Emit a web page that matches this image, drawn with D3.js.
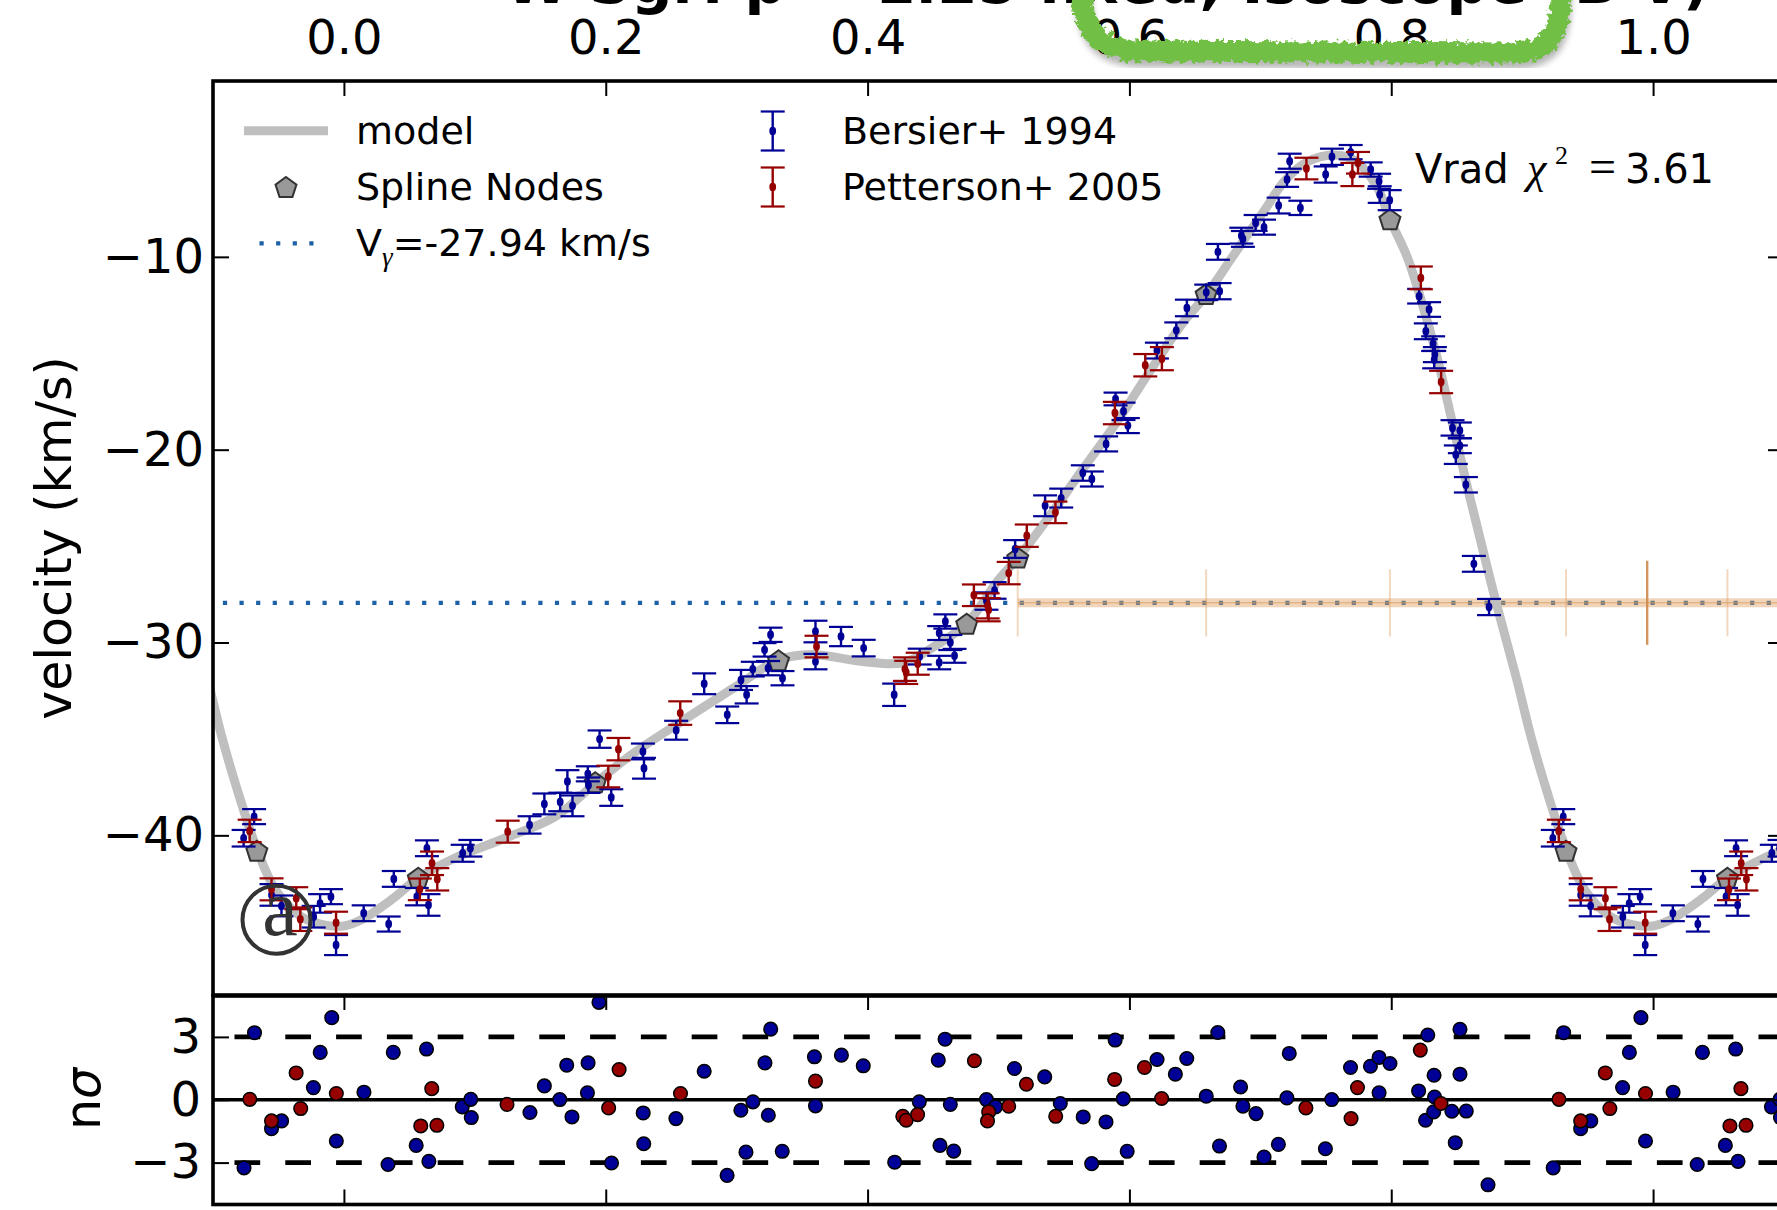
<!DOCTYPE html>
<html>
<head>
<meta charset="utf-8">
<script src="https://cdn.jsdelivr.net/npm/d3@7"></script>
<style>
  html, body { margin: 0; padding: 0; background: #fff; overflow: hidden; }
  svg { display: block; }
</style>
</head>
<body>
<svg id="fig" width="1777" height="1210" font-family="DejaVu Sans"></svg>
<script>
// ---------------- data ----------------
const phaseTicks = [0.0, 0.2, 0.4, 0.6, 0.8, 1.0];
const velTicks = [-40, -30, -20, -10];
const sigmaTicks = [-3, 0, 3];
const titleText = "W Sgr: p = 1.25 fixed, Isoscope (B-V)";

// Bersier+ 1994 radial velocities (phase, km/s, 1-sigma error)
const bersierPhase = [0.0151,0.0342,0.0381,0.0557,0.0634,0.0646,0.0907,0.0966,0.1418,0.1531,0.1652,0.1707,0.1746,0.1863,0.1868,0.1953,0.2042,0.2284,0.2292,0.2538,0.2752,0.2928,0.3033,0.3076,0.3123,0.3213,0.3240,0.3259,0.3350,0.3602,0.3602,0.3797,0.3970,0.4203,0.4398,0.4547,0.4547,0.4594,0.4632,0.4664,0.4908,0.4970,0.5127,0.5356,0.5479,0.5644,0.5713,0.5822,0.5894,0.5955,0.5988,0.6210,0.6358,0.6439,0.6587,0.6676,0.6689,0.6855,0.6867,0.6964,0.7028,0.7140,0.7204,0.7224,0.7306,0.7499,0.7547,0.7690,0.7843,0.7907,0.7912,0.7988,0.8213,0.8264,0.8289,0.8320,0.8328,0.8333,0.8468,0.8493,0.8524,0.8524,0.8570,0.8631,0.8747,0.9234,0.9314,0.9447,0.9523,0.9769,0.9818,0.9901,0.9940];
const bersierVel = [-44.04,-44.60,-42.26,-43.18,-40.67,-43.61,-40.93,-40.67,-39.46,-38.37,-38.27,-37.21,-38.47,-36.81,-37.40,-35.01,-38.04,-35.65,-36.52,-34.55,-32.14,-33.75,-31.94,-32.71,-31.38,-30.38,-31.33,-29.60,-31.85,-29.43,-30.99,-29.69,-30.29,-32.71,-30.73,-29.51,-31.04,-28.91,-30.00,-30.69,-27.85,-27.30,-25.15,-22.91,-22.51,-21.21,-21.52,-19.70,-17.37,-18.01,-18.75,-14.86,-13.81,-12.65,-11.84,-9.74,-11.78,-8.90,-9.07,-8.24,-8.46,-7.34,-5.99,-5.04,-7.46,-5.73,-4.81,-4.57,-5.47,-6.08,-6.77,-7.06,-12.04,-13.86,-12.73,-14.50,-15.33,-15.07,-18.87,-20.26,-19.00,-19.79,-21.82,-25.92,-28.16,-40.15,-39.03,-43.09,-43.66,-44.22,-43.53,-43.18,-45.69];
const bersierErr = [0.41,0.39,0.41,0.45,0.41,0.56,0.44,0.43,0.45,0.54,0.48,0.59,0.54,0.39,0.40,0.45,0.43,0.41,0.54,0.49,0.54,0.43,0.52,0.45,0.38,0.35,0.37,0.37,0.37,0.56,0.40,0.50,0.43,0.58,0.41,0.36,0.35,0.37,0.39,0.36,0.45,0.43,0.46,0.54,0.49,0.40,0.39,0.39,0.33,0.45,0.39,0.41,0.41,0.43,0.40,0.41,0.42,0.41,0.41,0.41,0.39,0.41,0.38,0.39,0.37,0.42,0.42,0.37,0.37,0.39,0.43,0.52,0.38,0.41,0.38,0.38,0.45,0.39,0.40,0.48,0.41,0.39,0.40,0.41,0.42,0.43,0.39,0.56,0.54,0.56,0.48,0.39,0.52];

// Petterson+ 2005 radial velocities
const pettersonPhase = [0.0580,0.0673,0.0713,0.1251,0.2019,0.2097,0.2569,0.3610,0.4285,0.4295,0.4383,0.4812,0.4917,0.4925,0.5078,0.5216,0.5435,0.5889,0.6121,0.6248,0.7352,0.7703,0.7746,0.8226,0.8381,0.9280,0.9447,0.9636,0.9667,0.9940];
const pettersonVel = [-42.80,-41.45,-42.28,-39.81,-36.95,-35.53,-33.66,-30.21,-31.38,-31.55,-31.10,-27.55,-28.10,-28.30,-26.40,-24.46,-23.25,-18.10,-15.62,-15.28,-5.42,-5.73,-5.12,-11.09,-16.49,-39.77,-42.80,-43.26,-44.35,-44.53];
const pettersonErr = [0.56,0.61,0.58,0.57,0.56,0.58,0.61,0.56,0.61,0.60,0.57,0.56,0.65,0.60,0.58,0.58,0.56,0.58,0.58,0.60,0.56,0.60,0.56,0.59,0.58,0.58,0.57,0.57,0.61,0.57];

// spline model of the velocity curve
const modelPhase = [0.000,0.014,0.037,0.057,0.084,0.123,0.162,0.192,0.221,0.260,0.299,0.332,0.357,0.396,0.427,0.451,0.476,0.500,0.515,0.539,0.564,0.590,0.615,0.641,0.659,0.679,0.705,0.718,0.735,0.757,0.773,0.789,0.799,0.812,0.822,0.835,0.845,0.8575,0.870,0.880,0.896,0.906,0.917,0.934,0.948,0.967,0.982];
const modelVel = [-44.70,-44.35,-43.30,-42.20,-41.20,-40.15,-39.00,-37.30,-35.75,-34.00,-32.30,-30.90,-30.62,-30.98,-31.05,-30.20,-29.00,-26.75,-25.60,-23.45,-21.05,-18.60,-16.00,-13.40,-11.95,-9.97,-7.40,-6.10,-5.10,-4.72,-5.05,-6.35,-8.05,-9.97,-12.05,-15.20,-18.10,-21.75,-25.20,-27.90,-31.95,-34.70,-37.30,-40.80,-42.85,-44.20,-44.60];

// spline nodes
const nodePhase = [0.0568,0.1920,0.3320,0.4757,0.5147,0.6586,0.7990,0.9335];
const nodeVel = [-42.20,-37.25,-30.92,-29.03,-25.60,-11.93,-8.05,-40.80];

// systemic velocity and its uncertainty band
const gammaVel = -27.94;
const gammaBandStart = 0.5147;
const gammaMarkPhase = [0.5147,0.6586,0.7990,0.9335,1.0568];
const gammaMarkHalf = 1.74;
const gammaMainPhase = 0.9955;
const gammaMainHalf = 2.18;
const chi2 = 3.61;

// residuals in units of sigma
const bersierResPhase = [0.0153,0.0337,0.0377,0.0552,0.0631,0.0649,0.0904,0.0969,0.0973,0.1421,0.1531,0.1649,0.1702,0.1742,0.1860,0.1865,0.1948,0.2044,0.2286,0.2290,0.2536,0.2752,0.2927,0.3032,0.3071,0.3124,0.3216,0.3260,0.3242,0.3348,0.3594,0.3602,0.3800,0.3967,0.4207,0.4395,0.4540,0.4553,0.4592,0.4632,0.4658,0.4908,0.4977,0.5122,0.5353,0.5472,0.5647,0.5712,0.5821,0.5891,0.5953,0.5983,0.6211,0.6351,0.6438,0.6587,0.6675,0.6688,0.6849,0.6867,0.6967,0.7028,0.7138,0.7203,0.7221,0.7497,0.7545,0.7689,0.7841,0.7907,0.7990,0.7907,0.8209,0.8279,0.8262,0.8327,0.8331,0.8324,0.8463,0.8573,0.8525,0.8525,0.8489,0.8739,0.9237,0.9317,0.9447,0.9524,0.9767,0.9819,0.9907,0.9942];
const bersierResSigma = [0.36,-3.09,2.26,-2.18,2.42,-2.94,-0.34,0.02,-0.85,-0.61,0.66,0.01,1.65,-0.82,0.33,1.76,4.65,-3.02,-0.63,-2.10,-0.90,1.36,-3.61,-0.50,-2.50,-0.10,1.76,3.37,-0.74,-2.46,2.05,-0.29,2.13,1.62,-2.98,-0.10,1.89,-2.18,2.89,-0.22,-2.45,0.01,-0.34,1.49,1.09,-0.18,-0.82,-3.05,-1.06,2.85,0.04,-2.46,1.92,1.22,1.97,0.17,3.21,-2.21,0.61,-0.31,-0.66,-2.74,-2.13,0.09,2.21,-2.34,0.01,1.54,1.60,2.02,1.73,0.33,0.42,3.09,-0.98,1.17,0.13,-0.58,-0.55,-0.54,3.36,1.22,-2.05,-4.06,-3.25,3.20,-1.38,-1.01,0.58,2.26,3.92,-1.97];
const pettersonResPhase = [0.0587,0.0671,0.0710,0.1246,0.2022,0.2102,0.2571,0.3602,0.4269,0.4295,0.4382,0.4816,0.4925,0.4916,0.5078,0.5213,0.5437,0.5887,0.6115,0.6246,0.7348,0.7742,0.7693,0.8222,0.8380,0.9281,0.9447,0.9635,0.9670,0.9942];
const pettersonResSigma = [-1.25,0.53,-1.22,-0.22,-0.39,1.44,0.30,0.89,-0.79,-0.98,-0.71,1.86,-0.58,-1.01,-0.31,0.74,-0.79,0.97,1.54,0.06,-0.39,0.58,-0.90,2.37,-0.18,0.02,-1.01,1.28,-0.42,0.30];

// ---------------- layout ----------------
const svg = d3.select("#fig");
const xLeft = 213, xRight = 1784;
const mainTop = 81, mainBottom = 995, resTop = 995, resBottom = 1204.5;

const x = d3.scaleLinear().domain([-0.1, 1.1]).range([xLeft, xRight]);
const yV = d3.scaleLinear().domain([-48.28, -0.88]).range([mainBottom, mainTop]);
const yR = d3.scaleLinear().domain([-5, 5]).range([resBottom, resTop]);

const BLUE = "#000096", RED = "#960000", GAMMA = "#1d62a8", MODEL = "#bfbfbf", BAND = "#dd9a5a";
const FONT = "DejaVu Sans";
const SERIF = "'Liberation Serif', 'DejaVu Serif', serif";

const defs = svg.append("defs");
defs.append("clipPath").attr("id", "clipMain").append("rect")
  .attr("x", xLeft).attr("y", mainTop).attr("width", xRight - xLeft).attr("height", mainBottom - mainTop);
defs.append("clipPath").attr("id", "clipRes").append("rect")
  .attr("x", xLeft).attr("y", resTop).attr("width", xRight - xLeft).attr("height", resBottom - resTop);

const rough = defs.append("filter").attr("id", "rough")
  .attr("x", "-5%").attr("y", "-60%").attr("width", "110%").attr("height", "220%");
rough.append("feTurbulence").attr("type", "fractalNoise").attr("baseFrequency", "0.2")
  .attr("numOctaves", 3).attr("seed", 7).attr("result", "noise");
rough.append("feDisplacementMap").attr("in", "SourceGraphic").attr("in2", "noise")
  .attr("scale", 11).attr("xChannelSelector", "R").attr("yChannelSelector", "G");
defs.append("filter").attr("id", "soft").append("feGaussianBlur").attr("stdDeviation", 3);

// repeat phased points one cycle to each side
function wrap(ph, ...cols) {
  const out = [];
  for (const s of [-1, 0, 1]) {
    ph.forEach((p, i) => {
      const q = p + s;
      if (q > -0.16 && q < 1.16) out.push([q, ...cols.map(c => c[i])]);
    });
  }
  return out;
}

// ---------------- title (runs off the top edge) ----------------
svg.append("text").attr("x", 505).attr("y", 3)
  .attr("font-family", FONT).attr("font-weight", "bold").attr("font-size", 58)
  .text(titleText);

// ---------------- main panel ----------------
const main = svg.append("g").attr("clip-path", "url(#clipMain)");

// systemic velocity line
main.append("line")
  .attr("x1", 222.9 - 16.6 * 9).attr("x2", xRight)
  .attr("y1", yV(gammaVel)).attr("y2", yV(gammaVel))
  .attr("stroke", GAMMA).attr("stroke-width", 4.3).attr("stroke-dasharray", "4.2,12.4");

// uncertainty band on the systemic velocity
main.append("rect")
  .attr("x", x(gammaBandStart)).attr("width", xRight - x(gammaBandStart))
  .attr("y", yV(gammaVel) - 4.5).attr("height", 9)
  .attr("fill", BAND).attr("opacity", 0.42);
main.append("line")
  .attr("x1", x(gammaBandStart)).attr("x2", xRight)
  .attr("y1", yV(gammaVel)).attr("y2", yV(gammaVel))
  .attr("stroke", BAND).attr("stroke-width", 1.6).attr("opacity", 0.55);
main.selectAll("line.gmark").data(gammaMarkPhase).join("line").attr("class", "gmark")
  .attr("x1", d => x(d)).attr("x2", d => x(d))
  .attr("y1", yV(gammaVel + gammaMarkHalf)).attr("y2", yV(gammaVel - gammaMarkHalf))
  .attr("stroke", BAND).attr("stroke-width", 2).attr("opacity", 0.38);
main.append("line")
  .attr("x1", x(gammaMainPhase)).attr("x2", x(gammaMainPhase))
  .attr("y1", yV(gammaVel + gammaMainHalf)).attr("y2", yV(gammaVel - gammaMainHalf))
  .attr("stroke", "#cf8a4c").attr("stroke-width", 2.4).attr("opacity", 0.9);

// model curve
const modelPts = wrap(modelPhase, modelVel).sort((a, b) => a[0] - b[0]);
const modelLine = d3.line().x(d => x(d[0])).y(d => yV(d[1])).curve(d3.curveCatmullRom.alpha(0.5));
main.append("path").attr("d", modelLine(modelPts))
  .attr("fill", "none").attr("stroke", MODEL).attr("stroke-width", 9)
  .attr("stroke-linejoin", "round").attr("stroke-linecap", "round");

// spline nodes (pentagons)
function pentagon(r) {
  const pts = d3.range(5).map(k => {
    const a = -Math.PI / 2 + k * 2 * Math.PI / 5;
    return [r * Math.cos(a), r * Math.sin(a)];
  });
  return "M" + pts.map(p => p.join(",")).join("L") + "Z";
}
const nodes = wrap(nodePhase, nodeVel);
main.selectAll("path.node").data(nodes).join("path").attr("class", "node")
  .attr("d", pentagon(11))
  .attr("transform", d => `translate(${x(d[0])},${yV(d[1]) + 1})`)
  .attr("fill", "#999999").attr("stroke", "#333333").attr("stroke-width", 2);

// error bars
function errorbars(g, pts, color) {
  const cap = 12;
  const grp = g.append("g");
  const e = grp.selectAll("g").data(pts).join("g");
  e.append("line")
    .attr("x1", d => x(d[0])).attr("x2", d => x(d[0]))
    .attr("y1", d => yV(d[1] - d[2])).attr("y2", d => yV(d[1] + d[2]))
    .attr("stroke", color).attr("stroke-width", 2.4);
  e.append("line")
    .attr("x1", d => x(d[0]) - cap).attr("x2", d => x(d[0]) + cap)
    .attr("y1", d => yV(d[1] - d[2])).attr("y2", d => yV(d[1] - d[2]))
    .attr("stroke", color).attr("stroke-width", 2.2);
  e.append("line")
    .attr("x1", d => x(d[0]) - cap).attr("x2", d => x(d[0]) + cap)
    .attr("y1", d => yV(d[1] + d[2])).attr("y2", d => yV(d[1] + d[2]))
    .attr("stroke", color).attr("stroke-width", 2.2);
  e.append("ellipse")
    .attr("cx", d => x(d[0])).attr("cy", d => yV(d[1]))
    .attr("rx", 3.4).attr("ry", 4.2).attr("fill", color);
}
errorbars(main, wrap(bersierPhase, bersierVel, bersierErr), BLUE);
errorbars(main, wrap(pettersonPhase, pettersonVel, pettersonErr), RED);

// ---------------- residual panel ----------------
const res = svg.append("g").attr("clip-path", "url(#clipRes)");
res.append("line").attr("x1", x(-0.2)).attr("x2", x(1.2))
  .attr("y1", yR(0)).attr("y2", yR(0)).attr("stroke", "#000").attr("stroke-width", 3.6);
[-3, 3].forEach(v => {
  res.append("line").attr("x1", x(-0.2)).attr("x2", x(1.2))
    .attr("y1", yR(v)).attr("y2", yR(v))
    .attr("stroke", "#000").attr("stroke-width", 4.6).attr("stroke-dasharray", "25.7,25.1");
});
res.selectAll("circle.rb").data(wrap(bersierResPhase, bersierResSigma)).join("circle").attr("class", "rb")
  .attr("cx", d => x(d[0])).attr("cy", d => yR(d[1])).attr("r", 6.8)
  .attr("fill", BLUE).attr("stroke", "#000").attr("stroke-width", 1.5);
res.selectAll("circle.rp").data(wrap(pettersonResPhase, pettersonResSigma)).join("circle").attr("class", "rp")
  .attr("cx", d => x(d[0])).attr("cy", d => yR(d[1])).attr("r", 6.8)
  .attr("fill", RED).attr("stroke", "#000").attr("stroke-width", 1.5);

// ---------------- axes ----------------
function styleAxis(g, fs) {
  g.select(".domain").remove();
  g.attr("font-family", FONT).attr("font-size", fs);
  g.selectAll(".tick line").attr("stroke", "#000").attr("stroke-width", 2);
  g.selectAll(".tick text").attr("fill", "#000");
}
svg.append("g").attr("transform", `translate(0,${mainTop})`)
  .call(d3.axisTop(x).tickValues(phaseTicks).tickFormat(d3.format(".1f")).tickSize(-15).tickPadding(27.5))
  .call(g => styleAxis(g, 48));
svg.append("g").attr("transform", `translate(${xLeft},0)`)
  .call(d3.axisLeft(yV).tickValues(velTicks).tickFormat(d3.format("d")).tickSize(-16).tickPadding(9))
  .call(g => styleAxis(g, 48));
svg.append("g").attr("transform", `translate(${xRight},0)`)
  .call(d3.axisRight(yV).tickValues(velTicks).tickFormat("").tickSize(-16))
  .call(g => styleAxis(g, 48));
svg.append("g").attr("transform", `translate(0,${resTop})`)
  .call(d3.axisTop(x).tickValues(phaseTicks).tickFormat("").tickSize(-15))
  .call(g => styleAxis(g, 48));
svg.append("g").attr("transform", `translate(0,${resBottom})`)
  .call(d3.axisBottom(x).tickValues(phaseTicks).tickFormat("").tickSize(-15))
  .call(g => styleAxis(g, 48));
svg.append("g").attr("transform", `translate(${xLeft},0)`)
  .call(d3.axisLeft(yR).tickValues(sigmaTicks).tickFormat(d3.format("d")).tickSize(-16).tickPadding(12))
  .call(g => styleAxis(g, 48));
svg.append("g").attr("transform", `translate(${xRight},0)`)
  .call(d3.axisRight(yR).tickValues(sigmaTicks).tickFormat("").tickSize(-16))
  .call(g => styleAxis(g, 48));

// spines
const spines = svg.append("g").attr("stroke", "#000").attr("stroke-width", 3.6).attr("fill", "none");
spines.append("rect").attr("x", xLeft).attr("y", mainTop).attr("width", xRight - xLeft).attr("height", mainBottom - mainTop);
spines.append("rect").attr("x", xLeft).attr("y", resTop + 1).attr("width", xRight - xLeft).attr("height", resBottom - resTop - 1);

// axis labels
svg.append("text").attr("transform", `translate(71,538) rotate(-90)`)
  .attr("text-anchor", "middle").attr("font-size", 49).attr("font-family", FONT)
  .text("velocity (km/s)");
const nlab = svg.append("text").attr("transform", `translate(100,1099) rotate(-90)`)
  .attr("text-anchor", "middle").attr("font-size", 49).attr("font-family", FONT);
nlab.append("tspan").text("n");
nlab.append("tspan").attr("font-style", "italic").text("σ");

// ---------------- legend ----------------
const leg = svg.append("g").attr("font-family", FONT).attr("font-size", 38);
leg.append("line").attr("x1", 244).attr("x2", 328).attr("y1", 130.7).attr("y2", 130.7)
  .attr("stroke", MODEL).attr("stroke-width", 9);
leg.append("text").attr("x", 356).attr("y", 143.5).text("model");
leg.append("path").attr("d", pentagon(11)).attr("transform", "translate(286,188)")
  .attr("fill", "#999999").attr("stroke", "#333333").attr("stroke-width", 2);
leg.append("text").attr("x", 356).attr("y", 199.5).text("Spline Nodes");
leg.append("line").attr("x1", 259.5).attr("x2", 316).attr("y1", 243.3).attr("y2", 243.3)
  .attr("stroke", GAMMA).attr("stroke-width", 4.3).attr("stroke-dasharray", "4.2,12.4");
const vg = leg.append("text").attr("x", 356).attr("y", 256);
vg.append("tspan").text("V");
vg.append("tspan").attr("font-family", SERIF).attr("font-style", "italic")
  .attr("font-size", 27).attr("dy", 10).text("γ");
vg.append("tspan").attr("dy", -10).text("=" + d3.format(".2f")(gammaVel).replace("\u2212", "-") + " km/s");

function legendBar(cx, cy, color) {
  leg.append("line").attr("x1", cx).attr("x2", cx).attr("y1", cy - 19.5).attr("y2", cy + 19.5)
    .attr("stroke", color).attr("stroke-width", 2.4);
  [-19.5, 19.5].forEach(o => leg.append("line").attr("x1", cx - 12).attr("x2", cx + 12)
    .attr("y1", cy + o).attr("y2", cy + o).attr("stroke", color).attr("stroke-width", 2.2));
  leg.append("ellipse").attr("cx", cx).attr("cy", cy).attr("rx", 3.4).attr("ry", 4.2).attr("fill", color);
}
legendBar(772.7, 131, BLUE);
leg.append("text").attr("x", 842).attr("y", 143.5).text("Bersier+ 1994");
legendBar(772.7, 187, RED);
leg.append("text").attr("x", 842).attr("y", 199.5).text("Petterson+ 2005");

// chi-square annotation
const ann = svg.append("g");
ann.append("text").attr("x", 1415).attr("y", 183).attr("font-family", FONT).attr("font-size", 40).text("Vrad");
ann.append("text").attr("x", 1527).attr("y", 183).attr("font-family", SERIF)
  .attr("font-style", "italic").attr("font-size", 44).text("χ");
ann.append("text").attr("x", 1555).attr("y", 164).attr("font-family", SERIF).attr("font-size", 26).text("2");
ann.append("text").attr("x", 1589).attr("y", 183).attr("font-family", SERIF).attr("font-size", 48).text("=");
ann.append("text").attr("x", 1625).attr("y", 183).attr("font-family", FONT).attr("font-size", 40).text(d3.format(".2f")(chi2));

// panel tag
svg.append("circle").attr("cx", 276.5).attr("cy", 919.7).attr("r", 34)
  .attr("fill", "none").attr("stroke", "#333").attr("stroke-width", 4);
svg.append("text").attr("x", 280).attr("y", 935).attr("text-anchor", "middle")
  .attr("font-family", SERIF).attr("font-size", 80).attr("fill", "#333").text("a");

// ---------------- green marker stroke ----------------
const markPath = "M1081,-14 C1082,30 1097,50 1140,51 L1512,53 C1550,52 1562,35 1561,-14";
svg.append("path").attr("d", markPath).attr("transform", "translate(2,8)")
  .attr("fill", "none").attr("stroke", "#000").attr("stroke-opacity", 0.28)
  .attr("stroke-width", 17).attr("filter", "url(#soft)");
svg.append("path").attr("d", markPath)
  .attr("fill", "none").attr("stroke", "#71bf44").attr("stroke-width", 21)
  .attr("stroke-linecap", "round").attr("filter", "url(#rough)");
</script>
</body>
</html>
